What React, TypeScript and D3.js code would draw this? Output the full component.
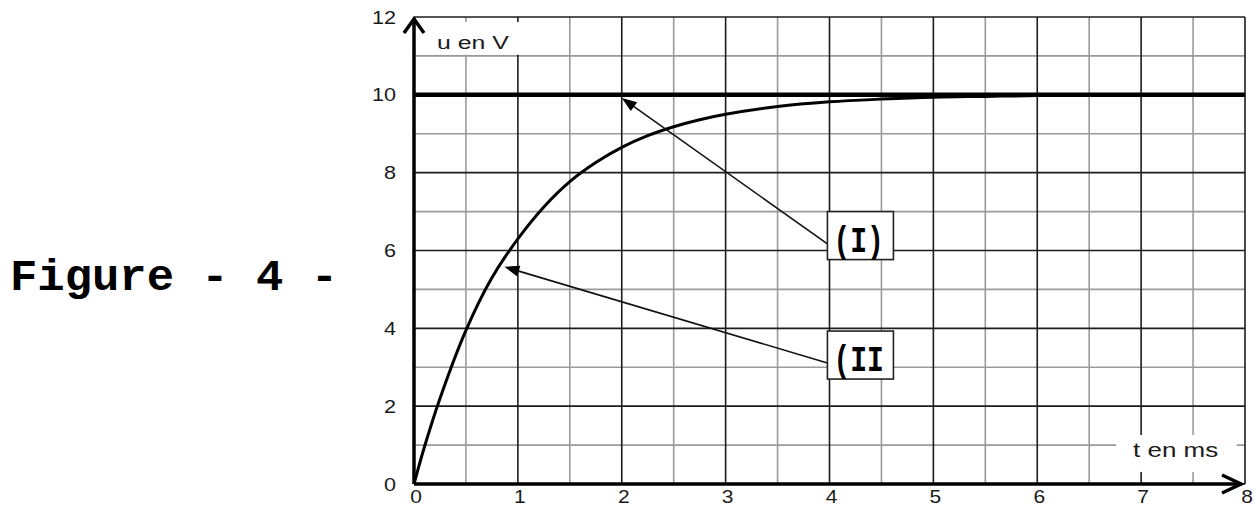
import React from "react";
import * as d3 from "d3";

// ---- data ----
const xTicks = [0, 1, 2, 3, 4, 5, 6, 7, 8];
const xMinor = [0.5, 1.5, 2.5, 3.5, 4.5, 5.5, 6.5, 7.5];
const yTicks = [0, 2, 4, 6, 8, 10, 12];
const yMinor = [1, 3, 5, 7, 9, 11];

// curve (II): u(t)
const curveT = [0, 0.1, 0.25, 0.5, 0.75, 1, 1.25, 1.5, 1.75, 2, 2.25, 2.5, 2.75, 3, 3.5, 4, 4.5, 5, 5.5, 6, 7];
const curveU = [0, 0.95, 2.2, 3.95, 5.3, 6.3, 7.12, 7.77, 8.26, 8.65, 8.95, 9.18, 9.36, 9.5, 9.7, 9.82, 9.89, 9.94, 9.96, 9.98, 10];

// line (I): constant value
const lineT = [0, 8];
const lineU = [10, 10];

// annotation labels (data coordinates)
const labelNames = ["(I)", "(II"];
const labelBoxT = [3.98, 3.98];
const labelBoxU = [7.0, 3.93];
const arrowTailU = [6.17, 3.11];
const arrowTipT = [2.0, 0.87];
const arrowTipU = [9.92, 5.58];

const W = 1255;
const H = 507;

const x = d3.scaleLinear().domain([0, 8]).range([414, 1245]);
const y = d3.scaleLinear().domain([0, 12]).range([484, 17]);

const tickFont = "Arial, 'Liberation Sans', sans-serif";
const monoFont = "'Courier New', 'Liberation Mono', monospace";

function Stretched({ x: px, y: py, sx = 1, sy = 1, anchor = "start", size, family, weight = "normal", fill = "#1a1a1a", children }: any) {
  return (
    <text
      transform={`translate(${px},${py}) scale(${sx},${sy})`}
      textAnchor={anchor}
      fontSize={size}
      fontFamily={family}
      fontWeight={weight}
      fill={fill}
    >
      {children}
    </text>
  );
}

function Arrow({ x1, y1, x2, y2 }: any) {
  const ang = Math.atan2(y2 - y1, x2 - x1);
  const len = 15;
  const half = 5.5;
  const bx = x2 - len * Math.cos(ang);
  const by = y2 - len * Math.sin(ang);
  const px = -Math.sin(ang) * half;
  const py = Math.cos(ang) * half;
  return (
    <g>
      <line x1={x1} y1={y1} x2={bx} y2={by} stroke="#111" strokeWidth={1.6} />
      <path d={`M${x2},${y2}L${bx + px},${by + py}L${bx - px},${by - py}Z`} fill="#000" />
    </g>
  );
}

export default function App() {
  const curve = d3
    .line<number>()
    .x((_, i) => x(curveT[i]))
    .y((_, i) => y(curveU[i]))
    .curve(d3.curveCatmullRom.alpha(0.5));
  const flat = d3
    .line<number>()
    .x((_, i) => x(lineT[i]))
    .y((_, i) => y(lineU[i]));

  const x0 = x(0);
  const y0 = y(0);
  const xEnd = x(8);
  const yTop = y(12);

  return (
    <svg
      width={W}
      height={H}
      viewBox={`0 0 ${W} ${H}`}
      style={{ position: "absolute", left: 0, top: 0, background: "#fff" }}
    >
      <rect x={0} y={0} width={W} height={H} fill="#fff" />

      {/* minor grid */}
      {xMinor.map((v) => (
        <line key={"xm" + v} x1={x(v)} x2={x(v)} y1={yTop} y2={y0} stroke="#9a9a9a" strokeWidth={1.6} />
      ))}
      {yMinor.map((v) => (
        <line key={"ym" + v} x1={x0} x2={xEnd} y1={y(v)} y2={y(v)} stroke="#9a9a9a" strokeWidth={1.6} />
      ))}
      {/* major grid */}
      {xTicks.map((v) => (
        <line key={"xM" + v} x1={x(v)} x2={x(v)} y1={yTop} y2={y0} stroke="#1c1c1c" strokeWidth={1.6} />
      ))}
      {yTicks.map((v) => (
        <line key={"yM" + v} x1={x0} x2={xEnd} y1={y(v)} y2={y(v)} stroke="#1c1c1c" strokeWidth={1.6} />
      ))}

      {/* axis title backgrounds */}
      <rect x={x(0.03)} y={y(11.87)} width={x(1.2) - x(0.03)} height={y(11.03) - y(11.87)} fill="#fff" />
      <rect x={x(6.76)} y={y(1.26)} width={x(7.92) - x(6.76)} height={y(0.31) - y(1.26)} fill="#fff" />

      {/* axis titles */}
      <Stretched x={437} y={49} sx={1.38} size={18} family={tickFont}>u en V</Stretched>
      <Stretched x={1133} y={457} sx={1.3} size={20} family={tickFont}>t en ms</Stretched>

      {/* line (I) */}
      <path d={flat(lineT) || ""} fill="none" stroke="#000" strokeWidth={4.5} />
      {/* curve (II) */}
      <path d={curve(curveT) || ""} fill="none" stroke="#000" strokeWidth={3} strokeLinejoin="round" />

      {/* axes */}
      <line x1={x0} y1={y0} x2={x0} y2={yTop + 1} stroke="#000" strokeWidth={3.5} />
      <line x1={x0} y1={y0} x2={xEnd - 3} y2={y0} stroke="#000" strokeWidth={3.5} />
      <path d={`M${x0 - 10},${yTop + 16}L${x0},${yTop + 2}L${x0 + 10},${yTop + 16}`} fill="none" stroke="#000" strokeWidth={3.5} />
      <path d={`M${xEnd - 23},${y0 - 9}L${xEnd - 4},${y0}L${xEnd - 23},${y0 + 9}`} fill="none" stroke="#000" strokeWidth={3.5} />

      {/* tick labels */}
      {yTicks.map((v) => (
        <Stretched key={"yl" + v} x={396} y={y(v) + 6.5} sx={1.2} anchor="end" size={18} family={tickFont}>
          {String(v)}
        </Stretched>
      ))}
      {xTicks.map((v) => (
        <Stretched key={"xl" + v} x={Math.min(x(v) + 2, 1247)} y={503} sx={1.2} anchor="middle" size={17.5} family={tickFont}>
          {String(v)}
        </Stretched>
      ))}

      {/* annotations */}
      {labelNames.map((name, i) => {
        const bx = x(labelBoxT[i]);
        const by = y(labelBoxU[i]);
        return (
          <g key={name}>
            <Arrow x1={bx} y1={y(arrowTailU[i])} x2={x(arrowTipT[i])} y2={y(arrowTipU[i])} />
            <rect x={bx} y={by} width={66} height={48} fill="#fff" stroke="#222" strokeWidth={1.6} />
            <Stretched x={bx + 6} y={by + 40} sy={1.35} size={28} family={monoFont} weight="bold" fill="#000">
              {name}
            </Stretched>
          </g>
        );
      })}

      {/* figure caption */}
      <text
        x={10}
        y={290}
        fontFamily={monoFont}
        fontWeight="bold"
        fontSize={44}
        textLength={328}
        lengthAdjust="spacingAndGlyphs"
        fill="#000"
      >
        Figure - 4 -
      </text>
    </svg>
  );
}
